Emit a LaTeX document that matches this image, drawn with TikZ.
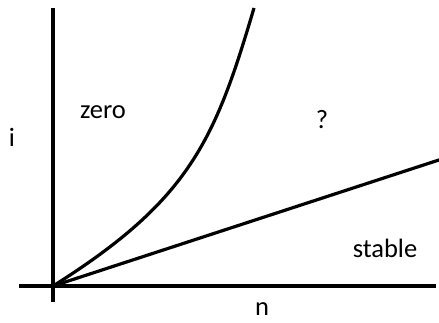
\documentclass[tikz,border=0pt]{standalone}
\usepackage{fontspec}
\setmainfont{Carlito}
\begin{document}
\begin{tikzpicture}[x=1pt,y=-1pt,
  axis/.style={line width=3.6pt},
  curve/.style={line width=3.2pt},
  lbl/.style={anchor=base,inner sep=0pt,font=\fontsize{26.5}{30}\selectfont}]
\useasboundingbox (0,0) rectangle (439,322);
\coordinate (O) at (53,286);
\coordinate (ytop) at (53,8);
\coordinate (ybot) at (53,302);
\coordinate (xl) at (19,286);
\coordinate (xr) at (436,286);
\coordinate (lend) at (441,159.3);
\coordinate (cend) at (254,8);
\draw[axis] (ybot) -- (ytop);
\draw[axis] (xl) -- (xr);
\draw[curve] (O) -- (lend);
\draw[curve] (O) .. controls (190,200) and (215,140) .. (cend);
\node[lbl] (i) at (12,146) {i};
\node[lbl] (zero) at (103,118) {zero};
\node[lbl] (q) at (322,128) {?};
\node[lbl] (stable) at (385,257) {stable};
\node[lbl] (n) at (262,315) {n};
\end{tikzpicture}
\end{document}
